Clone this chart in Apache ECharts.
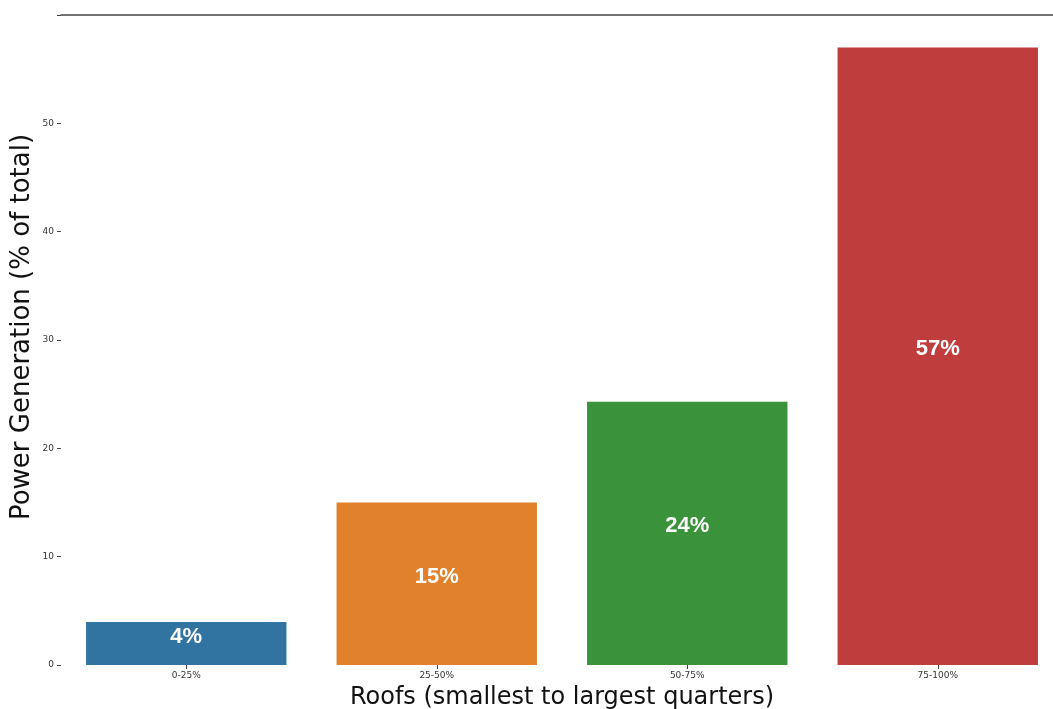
<!DOCTYPE html>
<html><head><meta charset="utf-8">
<script src="https://cdn.jsdelivr.net/npm/echarts@6/dist/echarts.min.js"></script>
<style>html,body{margin:0;padding:0;background:#fff;overflow:hidden}#c{width:1053px;height:709px}</style>
</head><body><div id="c"></div>
<script>
const categories = ['0-25%', '25-50%', '50-75%', '75-100%'];
const values = [3.96, 15.0, 24.3, 57.0];
const barLabels = ['4%', '15%', '24%', '57%'];
const colors = ['#3274a1', '#e1812c', '#3a923a', '#c03d3e'];
const yTicks = [0, 10, 20, 30, 40, 50];

const chart = echarts.init(document.getElementById('c'));
chart.setOption({
  animation: false,
  grid: { left: 61, width: 1002, top: 15, height: 650, outerBoundsMode: 'none', containLabel: false },
  xAxis: [{
    type: 'category', data: categories,
    name: 'Roofs (smallest to largest quarters)', nameLocation: 'middle', nameGap: 21,
    nameTextStyle: { fontFamily: 'DejaVu Sans', fontSize: 24, color: '#111' },
    axisLine: { show: false },
    axisTick: { show: true, alignWithLabel: true, length: 4, lineStyle: { color: '#444' } },
    axisLabel: { fontFamily: 'DejaVu Sans', fontSize: 9, color: '#333', margin: 6 }
  }, {
    type: 'category', data: categories, position: 'top',
    axisLine: { show: true, lineStyle: { color: '#444', width: 1.5 } },
    axisTick: { show: false }, axisLabel: { show: false }
  }],
  yAxis: {
    type: 'value', min: 0, max: 60, interval: 10,
    name: 'Power Generation (% of total)', nameLocation: 'middle', nameGap: 26,
    nameMoveOverlap: false,
    nameTextStyle: { fontFamily: 'DejaVu Sans', fontSize: 26, color: '#111', padding: [0, 0, 0, 26] },
    axisLine: { show: false },
    axisTick: { show: true, length: 4, lineStyle: { color: '#444' } },
    splitLine: { show: false },
    axisLabel: {
      fontFamily: 'DejaVu Sans', fontSize: 9, color: '#333', margin: 7,
      formatter: v => (yTicks.includes(v) ? String(v) : '')
    }
  },
  series: [{
    type: 'bar', xAxisIndex: 0, barWidth: '80%',
    data: values.map((v, i) => ({ value: v, itemStyle: { color: colors[i] } })),
    label: {
      show: true, position: 'inside', offset: [0, -7],
      formatter: p => barLabels[p.dataIndex],
      color: '#fff', fontFamily: 'Liberation Sans', fontWeight: 'bold', fontSize: 22
    }
  }]
});
</script></body></html>
